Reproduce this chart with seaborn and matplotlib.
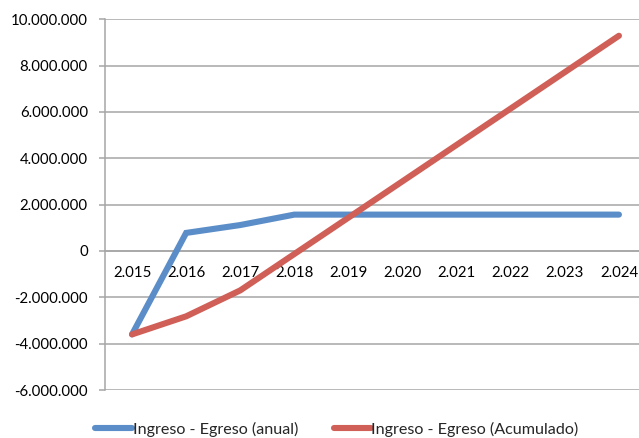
import matplotlib
matplotlib.use("Agg")
import matplotlib.pyplot as plt
from matplotlib.lines import Line2D
from matplotlib.ticker import FuncFormatter, FixedLocator
import seaborn as sns
import pandas as pd

# Years (Spanish notation with dot thousands separator)
years = ["2.015", "2.016", "2.017", "2.018", "2.019", "2.020", "2.021", "2.022", "2.023", "2.024"]
anual = [-3600000, 780000, 1120000, 1570000, 1570000, 1570000, 1570000, 1570000, 1570000, 1570000]
acumulado = [-3600000, -2820000, -1700000, -130000, 1440000, 3010000, 4580000, 6150000, 7720000, 9290000]

series_names = ["Ingreso - Egreso (anual)", "Ingreso - Egreso (Acumulado)"]
colors = ["#5B8EC8", "#CF5F57"]

df = pd.DataFrame({
    "idx": list(range(len(years))) * 2,
    "valor": anual + acumulado,
    "serie": [series_names[0]] * len(years) + [series_names[1]] * len(years),
})

sns.set_style("white")
plt.rcParams["font.family"] = ["Lato", "DejaVu Sans"]

fig = plt.figure(figsize=(6.39, 4.38), dpi=100)
ax = fig.add_axes([105 / 639, 48 / 438, 541 / 639, 370.7 / 438])

sns.lineplot(data=df, x="idx", y="valor", hue="serie", palette=colors,
             linewidth=4.4, ax=ax, legend=False, solid_capstyle="round",
             solid_joinstyle="miter", zorder=3)

ax.set_xlim(-0.5, len(years) - 0.5)
ax.set_ylim(-6000000, 10000000)
ax.set_yticks(range(-6000000, 10000001, 2000000))

def fmt(v, pos):
    v = int(round(v))
    if v == 0:
        return "0"
    s = f"{abs(v):,}".replace(",", ".")
    return ("-" if v < 0 else "") + s

ax.yaxis.set_major_formatter(FuncFormatter(fmt))
ax.grid(axis="y", color="#A6A6A6", linewidth=1.1, zorder=0)
ax.grid(axis="x", visible=False)

for side in ["top", "right"]:
    ax.spines[side].set_visible(False)
ax.spines["left"].set_color("#A6A6A6")
ax.spines["left"].set_linewidth(1.1)
ax.spines["bottom"].set_position(("data", 0))
ax.spines["bottom"].set_color("#A6A6A6")
ax.spines["bottom"].set_linewidth(1.1)

ax.set_xticks(range(len(years)))
ax.set_xticklabels(years)
ax.xaxis.set_minor_locator(FixedLocator([i - 0.5 for i in range(len(years) + 1)]))
ax.tick_params(axis="x", which="major", length=0, pad=11, labelsize=10.8, colors="black")
ax.tick_params(axis="x", which="minor", length=4, width=1.1, color="#A6A6A6", direction="out")
ax.tick_params(axis="y", which="major", length=4.3, width=1.1, color="#A6A6A6",
               direction="out", pad=8, labelsize=10.8, labelcolor="black")
ax.tick_params(axis="y", left=True)
ax.set_xlabel("")
ax.set_ylabel("")

handles = [Line2D([], [], color=c, linewidth=4.4, solid_capstyle="round") for c in colors]
fig.legend(handles, series_names, loc="center", bbox_to_anchor=(0.527, 0.02),
           ncol=2, frameon=False, fontsize=11.6, handlelength=2.3,
           handletextpad=0.05, columnspacing=2.2, borderpad=0.1)

fig.savefig("out.png", dpi=100)
